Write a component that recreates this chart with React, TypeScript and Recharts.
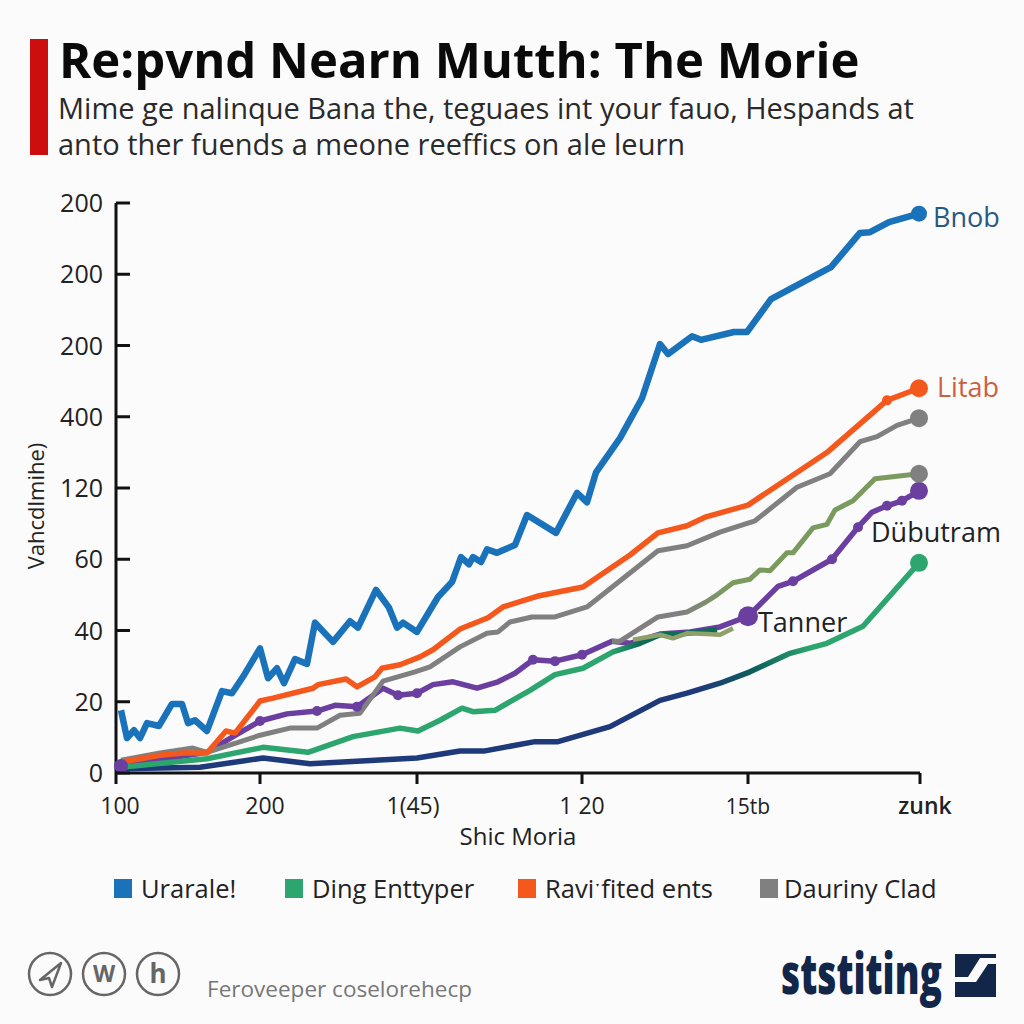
import { LineChart, Line, XAxis, YAxis, Legend, ReferenceDot } from "recharts";

const FONT = "'Open Sans', sans-serif";

const yTicks = [0, 100, 200, 300, 400, 500, 600, 700, 800];
const yLabels = ["0", "20", "40", "60", "120", "400", "200", "200", "200"];
const xTicks = [0, 144, 301, 466, 632, 804];
const xLabels = ["100", "200", "1(45)", "1 20", "15tb", "zunk"];
const xLabelShift = [4, 5, -4, 0, 0, 5];

const blueX = [5, 11, 18, 24, 31, 43, 56, 66, 72, 79, 91, 106, 116, 127, 144, 152, 161, 168, 179, 191, 199, 217, 234, 242, 260, 273, 281, 287, 301, 322, 336, 345, 353, 357, 365, 371, 381, 399, 411, 440, 461, 471, 480, 504, 526, 544, 552, 576, 585, 618, 631, 655, 715, 744, 754, 773, 803];
const blueY = [88, 49, 60, 49, 70, 66, 97, 97, 70, 74, 59, 115, 112, 135, 175, 133, 147, 126, 160, 153, 211, 184, 213, 204, 257, 232, 204, 211, 198, 247, 268, 303, 293, 303, 296, 314, 309, 320, 362, 337, 393, 380, 422, 470, 526, 602, 588, 613, 608, 619, 619, 665, 710, 758, 759, 773, 785];

const orangeX = [5, 44, 67, 91, 110, 119, 144, 157, 197, 202, 230, 241, 259, 266, 284, 304, 317, 344, 372, 387, 421, 467, 514, 542, 571, 589, 632, 712, 771, 803];
const orangeY = [15, 25, 28, 28, 59, 56, 101, 105, 119, 124, 132, 121, 135, 147, 152, 163, 173, 202, 218, 233, 248, 261, 306, 337, 347, 359, 376, 451, 523, 540];

const grayX = [5, 44, 77, 91, 144, 174, 201, 224, 244, 267, 299, 314, 344, 371, 382, 394, 416, 439, 471, 542, 571, 604, 639, 681, 714, 744, 761, 781, 803];
const grayY = [18, 28, 35, 29, 53, 63, 63, 81, 84, 129, 142, 149, 177, 196, 198, 212, 219, 219, 233, 312, 319, 338, 354, 401, 420, 465, 472, 488, 498];

const oliveX = [496, 504, 542, 571, 590, 601, 617, 634, 644, 654, 671, 677, 697, 711, 719, 737, 759, 803];
const oliveY = [185, 185, 219, 226, 240, 250, 267, 272, 285, 284, 309, 309, 344, 349, 369, 382, 413, 420];

const sageX = [517, 544, 557, 571, 591, 604, 617];
const sageY = [187, 194, 189, 196, 195, 194, 203];

const purpleX = [5, 91, 117, 144, 171, 201, 219, 241, 267, 282, 301, 317, 337, 361, 382, 399, 417, 439, 466, 496, 514, 544, 574, 604, 632, 662, 677, 716, 742, 756, 771, 786, 803];
const purpleY = [10, 29, 51, 73, 83, 87, 95, 93, 119, 109, 112, 124, 128, 119, 128, 140, 159, 157, 166, 185, 182, 195, 198, 205, 220, 262, 269, 300, 345, 366, 375, 382, 396];

const greenX = [5, 91, 147, 192, 237, 284, 302, 324, 346, 357, 379, 414, 439, 467, 497, 524, 544, 564, 584, 601];
const greenY = [8, 20, 36, 29, 51, 63, 59, 74, 91, 86, 88, 116, 138, 147, 170, 182, 194, 195, 198, 201];

const navyX = [5, 84, 147, 194, 301, 344, 369, 419, 442, 494, 544, 571, 604, 634, 674, 711, 747, 803];
const navyY = [6, 8, 21, 13, 21, 31, 31, 44, 44, 65, 102, 112, 126, 142, 168, 182, 206, 295];

const purpleKnobs = [144, 201, 241, 282, 301, 417, 439, 466, 677, 716, 742, 771, 786];
const orangeKnobs = [771];

const legendNames = ["Urarale!", "Ding Enttyper", "Ravi\u02d1fited ents", "Dauriny Clad"];
const legendColors = ["#1a73ba", "#2ca56f", "#f4581c", "#808080"];
const legendLefts = [0, 171, 404, 646];

const noteNames = ["Bnob", "Litab", "D\u00fcbutram", "Tanner"];
const noteX = [803, 803, 755, 632];
const noteY = [785, 540, 337, 220];
const noteShift = [14, 18, 0, 10];
const noteDrop = [4, 0, 0, 7];
const noteColors = ["#28597f", "#c9613f", "#222222", "#222222"];

const zip = (xs: number[], ys: number[]) => xs.map((x, i) => ({ x, y: ys[i] }));

const knobs = (color: string, small: number[], endR: number, endColor = color) => (p: any) => {
  const { cx, cy, index, payload } = p;
  let r = 0;
  if (small.includes(payload.x)) r = 5;
  if (payload.x === 803) r = endR;
  if (payload.x === 632 && color === "#6b3fa0") r = 10;
  if (!r) return <g key={index} />;
  return <circle key={index} cx={cx} cy={cy} r={r} fill={payload.x === 803 ? endColor : color} stroke="none" />;
};

function YTick({ x, y, payload }: any) {
  return (
    <g>
      <line x1={x} x2={x + 14} y1={y} y2={y} stroke="#111" strokeWidth={3} />
      <text x={x - 13} y={y + 9} textAnchor="end" fontSize={25} fontFamily={FONT} fill="#222">
        {yLabels[payload.value / 100]}
      </text>
    </g>
  );
}

function XTick({ x, y, payload }: any) {
  const i = xTicks.indexOf(payload.value);
  return (
    <g>
      <line x1={x} x2={x} y1={y} y2={y + 11} stroke="#111" strokeWidth={3} />
      <text x={x + xLabelShift[i]} y={y + 41} textAnchor="middle" fontSize={i === 4 ? 21 : 23} fontFamily={FONT} fill="#222" fontWeight={i === 5 ? 600 : 400}>
        {xLabels[i]}
      </text>
    </g>
  );
}

function LegendRow() {
  return (
    <div style={{ position: "relative", height: 34, fontFamily: FONT, fontSize: 25.5, color: "#222" }}>
      {legendNames.map((name, i) => (
        <div key={name} style={{ position: "absolute", left: legendLefts[i], top: 0, display: "flex", alignItems: "center", whiteSpace: "nowrap" }}>
          <span style={{ width: 18, height: 19, background: legendColors[i], marginRight: i === 3 ? 6 : 9 }} />
          {name}
        </div>
      ))}
    </div>
  );
}

function Footer() {
  return (
    <svg width={1024} height={90} style={{ position: "absolute", left: 0, top: 934 }}>
      {[50, 104, 158].map((cx) => (
        <circle key={cx} cx={cx} cy={40} r={21} fill="none" stroke="#666" strokeWidth={2.5} />
      ))}
      <path d="M40 46 L61 29 L52 53 L49 44 Z" fill="none" stroke="#666" strokeWidth={2.5} strokeLinejoin="round" />
      <text x={104} y={48} textAnchor="middle" fontSize={23} fontWeight={700} fontFamily={FONT} fill="#666">W</text>
      <text x={158} y={49} textAnchor="middle" fontSize={26} fontWeight={700} fontFamily={FONT} fill="#666">h</text>
      <text x={207} y={63} fontSize={22} fontFamily={FONT} fill="#777" textLength={265} lengthAdjust="spacingAndGlyphs">Feroveeper coselorehecp</text>
      <text x={781} y={60} fontSize={56} fontWeight={800} fontFamily={FONT} fill="#12264a" textLength={161} lengthAdjust="spacingAndGlyphs">ststiting</text>
      <rect x={955} y={20} width={41} height={43} fill="#12264a" />
      <path d="M996 24 L980 24 L968 43 L955 43 L955 48 L976 48 L988 30 L996 30 Z" fill="#fbfbfb" />
    </svg>
  );
}

export default function App() {
  return (
    <div style={{ position: "absolute", left: 0, top: 0, width: 1024, height: 1024, background: "#fbfbfb", overflow: "hidden" }}>
      <div style={{ position: "absolute", left: 30, top: 39, width: 18, height: 116, background: "#cc0e0e" }} />
      <div style={{ position: "absolute", left: 59, top: 27, fontFamily: FONT, fontWeight: 700, fontSize: 49, lineHeight: "64px", color: "#0a0a0a", whiteSpace: "nowrap" }}>
        Re:pvnd Nearn Mutth: The Morie
      </div>
      <div style={{ position: "absolute", left: 58, top: 90, fontFamily: FONT, fontSize: 29, lineHeight: "36px", color: "#2a2a2a", whiteSpace: "nowrap" }}>
        Mime ge nalinque Bana the, teguaes int your fauo, Hespands at
        <br />
        anto ther fuends a meone reeffics on ale leurn
      </div>
      <LineChart width={1024} height={1024} margin={{ top: 203, right: 104, bottom: 147, left: 0 }} style={{ position: "absolute", left: 0, top: 0 }}>
        <defs>
          <linearGradient id="navyFade" gradientUnits="userSpaceOnUse" x1={700} y1={0} x2={810} y2={0}>
            <stop offset="0" stopColor="#1f3a7a" />
            <stop offset="0.5" stopColor="#0d5f5c" />
            <stop offset="1" stopColor="#2ca56f" />
          </linearGradient>
          <linearGradient id="greenFade" gradientUnits="userSpaceOnUse" x1={610} y1={0} x2={640} y2={0}>
            <stop offset="0" stopColor="#2ca56f" />
            <stop offset="1" stopColor="#0e6b58" />
          </linearGradient>
          <linearGradient id="oliveFade" gradientUnits="userSpaceOnUse" x1={680} y1={0} x2={725} y2={0}>
            <stop offset="0" stopColor="#808080" />
            <stop offset="1" stopColor="#7a9a5e" />
          </linearGradient>
        </defs>
        <XAxis
          type="number"
          dataKey="x"
          domain={[0, 804]}
          ticks={xTicks}
          tick={<XTick />}
          tickLine={false}
          tickSize={0}
          tickMargin={0}
          axisLine={{ stroke: "#111", strokeWidth: 3 }}
          height={70}
          padding={{ left: 0, right: 0 }}
          interval={0}
        />
        <YAxis
          type="number"
          domain={[0, 800]}
          ticks={yTicks}
          tick={<YTick />}
          tickLine={false}
          tickSize={0}
          tickMargin={0}
          axisLine={{ stroke: "#111", strokeWidth: 3 }}
          width={116}
          interval={0}
        />
        <Line data={zip(purpleX, purpleY)} dataKey="y" stroke="#6b3fa0" strokeWidth={5.5} strokeLinejoin="round" dot={knobs("#6b3fa0", purpleKnobs, 9)} isAnimationActive={false} />
        <Line data={zip(navyX, navyY)} dataKey="y" stroke="url(#navyFade)" strokeWidth={5.5} strokeLinejoin="round" dot={knobs("#2ca56f", [], 9)} isAnimationActive={false} />
        <Line data={zip(greenX, greenY)} dataKey="y" stroke="url(#greenFade)" strokeWidth={5.5} strokeLinejoin="round" dot={false} isAnimationActive={false} />
        <Line data={zip(sageX, sageY)} dataKey="y" stroke="#8fa06a" strokeWidth={4.5} strokeLinejoin="round" dot={false} isAnimationActive={false} />
        <Line data={zip(grayX, grayY)} dataKey="y" stroke="#808080" strokeWidth={5} strokeLinejoin="round" dot={knobs("#808080", [], 9)} isAnimationActive={false} />
        <Line data={zip(oliveX, oliveY)} dataKey="y" stroke="url(#oliveFade)" strokeWidth={5} strokeLinejoin="round" dot={knobs("#7a9a5e", [], 9, "#808080")} isAnimationActive={false} />
        <Line data={zip(orangeX, orangeY)} dataKey="y" stroke="#f4581c" strokeWidth={5.5} strokeLinejoin="round" dot={knobs("#f4581c", orangeKnobs, 9)} isAnimationActive={false} />
        <Line data={zip(blueX, blueY)} dataKey="y" stroke="#1a73ba" strokeWidth={6.5} strokeLinejoin="round" dot={knobs("#1a73ba", [], 8)} isAnimationActive={false} />
        <ReferenceDot x={purpleX[0]} y={purpleY[0]} r={7} fill="#6b3fa0" stroke="none" ifOverflow="visible" />
        {noteNames.map((name, i) => (
          <ReferenceDot
            key={name}
            x={noteX[i]}
            y={noteY[i]}
            r={0}
            ifOverflow="visible"
            shape={(p: any) => (
              <text x={p.cx + noteShift[i]} y={p.cy + 9 + noteDrop[i]} fontSize={27} fontFamily={FONT} fill={noteColors[i]}>
                {name}
              </text>
            )}
          />
        ))}
        <Legend verticalAlign="bottom" content={() => <LegendRow />} wrapperStyle={{ position: "absolute", left: 114, top: 871, width: 850, bottom: "auto" }} />
      </LineChart>
      <div style={{ position: "absolute", left: 0, width: 1036, top: 819, textAlign: "center", fontFamily: FONT, fontSize: 24, color: "#222" }}>
        Shic Moria
      </div>
      <div style={{ position: "absolute", left: 35, top: 506, transform: "translate(-50%,-50%) rotate(-90deg)", fontFamily: FONT, fontSize: 22, color: "#222", whiteSpace: "nowrap" }}>
        Vahcdlmihe)
      </div>
      <Footer />
    </div>
  );
}
